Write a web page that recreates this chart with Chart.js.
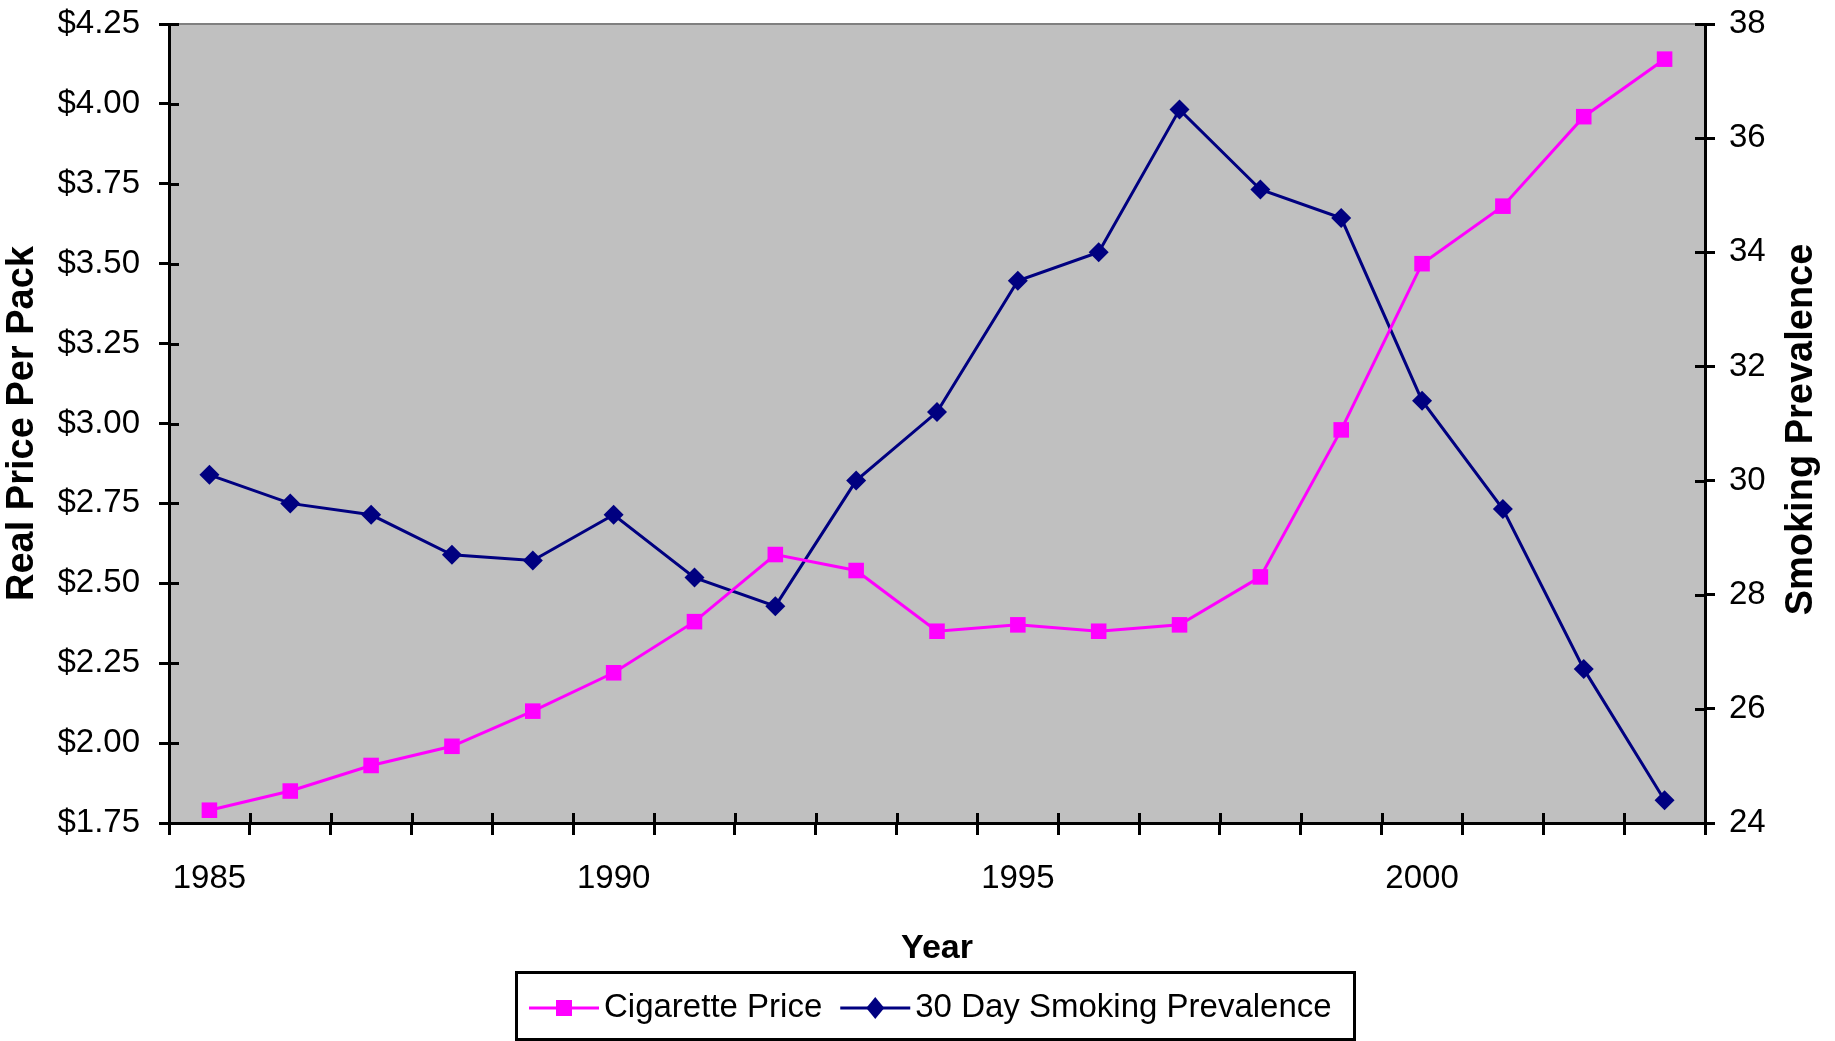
<!DOCTYPE html>
<html>
<head>
<meta charset="utf-8">
<style>
  html, body { margin: 0; padding: 0; background: #ffffff; }
  #wrap { position: relative; width: 1835px; height: 1041px; }
</style>
<script src="https://cdn.jsdelivr.net/npm/chart.js@4.4.1/dist/chart.umd.min.js"></script>
</head>
<body>
<div id="wrap"><canvas id="chart" width="1835" height="1041"></canvas></div>
<script>
// Years on the category axis
const years = ['1985','1986','1987','1988','1989','1990','1991','1992','1993','1994',
               '1995','1996','1997','1998','1999','2000','2001','2002','2003'];

// Real price per pack (dollars), left axis
const cigarettePrice = [1.79, 1.85, 1.93, 1.99, 2.10, 2.22, 2.38, 2.59, 2.54, 2.35,
                        2.37, 2.35, 2.37, 2.52, 2.98, 3.50, 3.68, 3.96, 4.14];

// 30 day smoking prevalence (percent), right axis
const smokingPrevalence = [30.1, 29.6, 29.4, 28.7, 28.6, 29.4, 28.3, 27.8, 30.0, 31.2,
                           33.5, 34.0, 36.5, 35.1, 34.6, 31.4, 29.5, 26.7, 24.4];

// Axis ranges and titles
const priceTicks = { min: 1.75, max: 4.25, step: 0.25 };
const prevalenceTicks = { min: 24, max: 38, step: 2 };
const labeledYearStep = 5;
const leftTitle = 'Real Price Per Pack';
const rightTitle = 'Smoking Prevalence';
const bottomTitle = 'Year';
const seriesNames = ['Cigarette Price', '30 Day Smoking Prevalence'];

const FONT = '"Liberation Sans", Arial, Helvetica, sans-serif';
const MAGENTA = '#FF00FF';
const NAVY = '#000080';

// Gray plot area with a darker top edge
const plotBackground = {
  id: 'plotBackground',
  beforeDraw(chart) {
    const { ctx, chartArea: a } = chart;
    ctx.save();
    ctx.fillStyle = '#C0C0C0';
    ctx.fillRect(a.left, a.top, a.right - a.left, a.bottom - a.top);
    ctx.restore();
  },
  beforeDatasetsDraw(chart) {
    const { ctx, chartArea: a } = chart;
    ctx.save();
    ctx.strokeStyle = '#808080';
    ctx.lineWidth = 2;
    ctx.beginPath();
    ctx.moveTo(a.left, a.top);
    ctx.lineTo(a.right, a.top);
    ctx.stroke();
    ctx.restore();
  }
};

// Tick marks that cross the axis lines: the inner half of each mark
const innerTicks = {
  id: 'innerTicks',
  beforeDatasetsDraw(chart) {
    const { ctx, chartArea: a, scales } = chart;
    const len = 10;
    ctx.save();
    ctx.strokeStyle = '#000000';
    ctx.lineWidth = 3;
    ctx.beginPath();
    const x = scales.x;
    for (let i = 0; i <= years.length; i++) {
      const px = Math.round(x.getPixelForValue(i - 0.5)) + 0.5;
      ctx.moveTo(px, a.bottom);
      ctx.lineTo(px, a.bottom - len);
    }
    scales.y.ticks.forEach(t => {
      const py = Math.round(scales.y.getPixelForValue(t.value)) + 0.5;
      ctx.moveTo(a.left, py);
      ctx.lineTo(a.left + len, py);
    });
    scales.y1.ticks.forEach(t => {
      const py = Math.round(scales.y1.getPixelForValue(t.value)) + 0.5;
      ctx.moveTo(a.right, py);
      ctx.lineTo(a.right - len, py);
    });
    ctx.stroke();
    ctx.restore();
  }
};

// Right axis title reading bottom to top, and the boxed legend below the chart
const extras = {
  id: 'extras',
  afterDraw(chart) {
    const { ctx, chartArea: a } = chart;
    ctx.save();
    ctx.fillStyle = '#000000';
    ctx.font = 'bold 38px ' + FONT;
    ctx.textAlign = 'center';
    ctx.textBaseline = 'middle';
    ctx.translate(1802, (a.top + a.bottom) / 2 + 6);
    ctx.rotate(-Math.PI / 2);
    ctx.fillText(rightTitle, 0, 0);
    ctx.restore();

    // legend
    const box = { x: 516, y: 972, w: 838, h: 67 };
    ctx.save();
    ctx.fillStyle = '#ffffff';
    ctx.fillRect(box.x, box.y, box.w, box.h);
    ctx.strokeStyle = '#000000';
    ctx.lineWidth = 3;
    ctx.strokeRect(box.x + 0.5, box.y + 0.5, box.w, box.h);
    const cy = box.y + 36;
    ctx.font = '33px ' + FONT;
    ctx.textBaseline = 'middle';
    ctx.textAlign = 'left';
    let cx = box.x + 13;
    chart.data.datasets.forEach((ds, i) => {
      const lineLen = 70;
      ctx.strokeStyle = ds.borderColor;
      ctx.lineWidth = 3;
      ctx.beginPath();
      ctx.moveTo(cx, cy);
      ctx.lineTo(cx + lineLen, cy);
      ctx.stroke();
      ctx.fillStyle = ds.pointBackgroundColor;
      const mx = cx + lineLen / 2;
      ctx.beginPath();
      if (ds.pointStyle === 'rect') {
        ctx.rect(mx - 8, cy - 8, 16, 16);
      } else {
        ctx.moveTo(mx, cy - 11);
        ctx.lineTo(mx + 9, cy);
        ctx.lineTo(mx, cy + 11);
        ctx.lineTo(mx - 9, cy);
        ctx.closePath();
      }
      ctx.fill();
      ctx.fillStyle = '#000000';
      ctx.fillText(ds.label, cx + lineLen + 5, cy);
      cx += lineLen + 5 + ctx.measureText(ds.label).width + 18;
    });
    ctx.restore();
  }
};

// Keep the plot edges fixed: no extra room for overhanging tick labels
function noOverhang(scale) {
  scale.paddingTop = 0;
  scale.paddingBottom = 0;
}

const ctx = document.getElementById('chart').getContext('2d');
new Chart(ctx, {
  type: 'line',
  data: {
    labels: years,
    datasets: [
      {
        label: seriesNames[0],
        data: cigarettePrice,
        yAxisID: 'y',
        borderColor: MAGENTA,
        backgroundColor: MAGENTA,
        pointBackgroundColor: MAGENTA,
        pointBorderColor: MAGENTA,
        borderWidth: 3,
        pointStyle: 'rect',
        pointRadius: 11,
        pointBorderWidth: 0,
        tension: 0
      },
      {
        label: seriesNames[1],
        data: smokingPrevalence,
        yAxisID: 'y1',
        borderColor: NAVY,
        backgroundColor: NAVY,
        pointBackgroundColor: NAVY,
        pointBorderColor: NAVY,
        borderWidth: 3,
        pointStyle: 'rectRot',
        pointRadius: 10,
        pointBorderWidth: 0,
        tension: 0
      }
    ]
  },
  options: {
    responsive: false,
    animation: false,
    layout: { padding: { top: 24, left: 0, right: 0, bottom: 0 } },
    plugins: {
      legend: { display: false },
      tooltip: { enabled: false }
    },
    scales: {
      x: {
        type: 'category',
        offset: true,
        grid: {
          offset: true,
          drawOnChartArea: false,
          color: '#000000',
          lineWidth: 3,
          tickLength: 12
        },
        border: { color: '#000000', width: 3 },
        ticks: {
          autoSkip: false,
          maxRotation: 0,
          padding: 24,
          color: '#000000',
          font: { family: FONT, size: 33 },
          callback(value) {
            const y = this.getLabelForValue(value);
            return Number(y) % labeledYearStep === 0 ? y : '';
          }
        },
        title: {
          display: true,
          text: bottomTitle,
          color: '#000000',
          font: { family: FONT, size: 34, weight: 'bold' },
          padding: { top: 0, bottom: 72 }
        },
        afterFit(scale) { scale.height = 218; }
      },
      y: {
        type: 'linear',
        position: 'left',
        min: priceTicks.min,
        max: priceTicks.max,
        grid: {
          drawOnChartArea: false,
          color: '#000000',
          lineWidth: 3,
          tickLength: 10
        },
        border: { color: '#000000', width: 3 },
        ticks: {
          stepSize: priceTicks.step,
          padding: 19,
          color: '#000000',
          font: { family: FONT, size: 33 },
          callback: v => '$' + Number(v).toFixed(2)
        },
        title: {
          display: true,
          text: leftTitle,
          color: '#000000',
          font: { family: FONT, size: 38, weight: 'bold' },
          padding: { top: 0, bottom: 0 }
        },
        afterFit(scale) { scale.width = 169; noOverhang(scale); }
      },
      y1: {
        type: 'linear',
        position: 'right',
        min: prevalenceTicks.min,
        max: prevalenceTicks.max,
        grid: {
          drawOnChartArea: false,
          color: '#000000',
          lineWidth: 3,
          tickLength: 10
        },
        border: { color: '#000000', width: 3 },
        ticks: {
          stepSize: prevalenceTicks.step,
          padding: 14,
          color: '#000000',
          font: { family: FONT, size: 33 }
        },
        afterFit(scale) { scale.width = 130; noOverhang(scale); }
      }
    }
  },
  plugins: [plotBackground, innerTicks, extras]
});
</script>
</body>
</html>
